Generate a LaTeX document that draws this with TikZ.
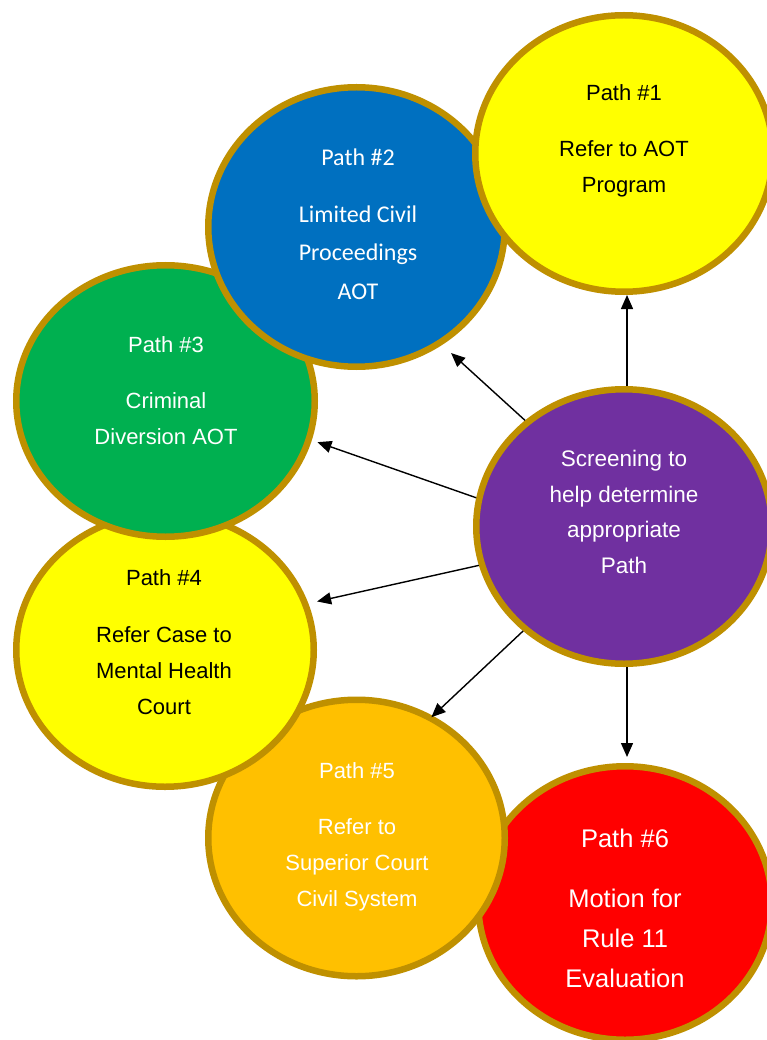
\documentclass[tikz,border=0pt]{standalone}
\usepackage{fontspec}
\setmainfont{Liberation Sans}
\newfontfamily\carl{Carlito}
\usetikzlibrary{shapes.geometric,arrows.meta}
\definecolor{rim}{HTML}{BF9000}
\definecolor{cyel}{HTML}{FFFF00}
\definecolor{cblue}{HTML}{0070C0}
\definecolor{cgreen}{HTML}{00B050}
\definecolor{corange}{HTML}{FFC000}
\definecolor{cred}{HTML}{FF0000}
\definecolor{cpurple}{HTML}{7030A0}
\tikzset{
  circ/.style={ellipse, draw=rim, line width=6.5pt, inner sep=0pt},
  sz/.style 2 args={minimum width=#1pt, minimum height=#2pt},
  txt/.style={align=center, inner sep=0pt, anchor=base, font=\fontsize{22}{36}\selectfont},
  arr/.style={line width=1.4pt, -{Triangle[length=14pt,width=12pt]}}
}
\begin{document}
\begin{tikzpicture}[x=1pt,y=-1pt]
\useasboundingbox (0,0) rectangle (767,1040);
\clip (0,0) rectangle (767,1040);
% circles, back to front
\node[circ, fill=cred, sz={293.5}{273.5}] (p6) at (625,903) {};
\node[circ, fill=corange, sz={296.5}{276.5}] (p5) at (356.5,838) {};
\node[circ, fill=cyel, sz={297.5}{273.5}] (p4) at (165,650) {};
\node[circ, fill=cgreen, sz={298.5}{271.5}] (p3) at (165.5,401) {};
\node[circ, fill=cblue, sz={296.5}{279.5}] (p2) at (356.5,227) {};
\node[circ, fill=cyel, sz={297.5}{276.5}] (p1) at (624,153.5) {};
\node[circ, fill=cpurple, sz={295.5}{274.5}] (scr) at (624,526.5) {};
% texts (anchored at the baseline of the last line)
\node[txt] (t1) at (624,193) {Path \#1\\[20pt]Refer to AOT\\Program};
\node[txt, text=white, font=\carl\fontsize{24}{38.5}\selectfont] (t2) at (358,299) {Path \#2\\[18.5pt]Limited Civil\\Proceedings\\AOT};
\node[txt, text=white] (t3) at (166,444) {Path \#3\\[20pt]Criminal\\Diversion AOT};
\node[txt] (t4) at (164,714) {Path \#4\\[21pt]Refer Case to\\Mental Health\\Court};
\node[txt, text=white] (t5) at (357,906) {Path \#5\\[20pt]Refer to\\Superior Court\\Civil System};
\node[txt, text=white, font=\fontsize{25.5}{40}\selectfont] (t6) at (625,987) {Path \#6\\[20pt]Motion for\\Rule 11\\Evaluation};
\node[txt, text=white, font=\fontsize{22.5}{35.5}\selectfont] (ts) at (624,573) {Screening to\\help determine\\appropriate\\Path};
% connectors
\draw[arr] ([xshift=3pt]scr.north) -- ([xshift=3pt]scr.north |- p1.south);
\draw[arr, shorten >=12pt] (scr.133) -- (p2.-54);
\draw[arr, shorten >=6pt] (scr.169) -- (p3.-15);
\draw[arr, shorten >=9pt] (scr.195) -- (p4.18);
\draw[arr, shorten >=-2pt] (scr.226) -- (p5.58);
\draw[arr, shorten >=6pt] ([xshift=3pt]scr.south) -- ([xshift=3pt]scr.south |- p6.north);
\end{tikzpicture}
\end{document}
